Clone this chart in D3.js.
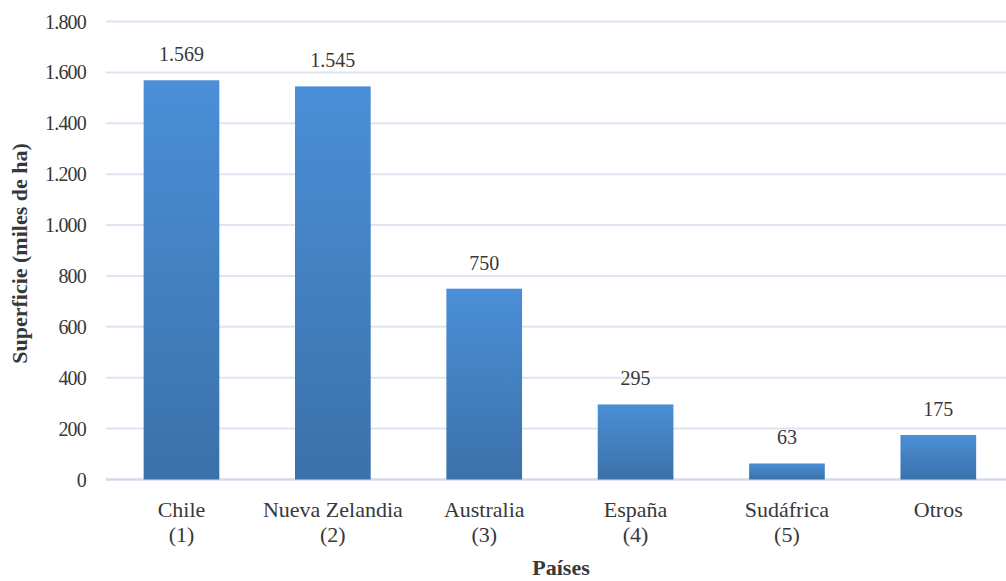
<!DOCTYPE html>
<html>
<head>
<meta charset="utf-8">
<script src="https://cdn.jsdelivr.net/npm/d3@7"></script>
<style>
  html, body { margin: 0; padding: 0; background: #fff; }
</style>
</head>
<body>
<svg id="chart" width="1006" height="581"></svg>
<script>
// Superficie plantada por país (miles de ha)
const countries = ["Chile", "Nueva Zelandia", "Australia", "España", "Sudáfrica", "Otros"];
const ranks = ["(1)", "(2)", "(3)", "(4)", "(5)", ""];
const values = [1569, 1545, 750, 295, 63, 175];
const yTicks = [0, 200, 400, 600, 800, 1000, 1200, 1400, 1600, 1800];

const FONT = '"Liberation Serif", "Times New Roman", serif';
const INK = "#383838";

const es = d3.formatLocale({ decimal: ",", thousands: ".", grouping: [3], currency: ["", ""] });
const fmt = es.format(",d");

const svg = d3.select("#chart");
const plotLeft = 105.8, plotRight = 1014, plotTop = 21.5, plotBottom = 479.5;

const x = d3.scaleBand().domain(countries).range([plotLeft, plotRight]).paddingInner(0.5).paddingOuter(0.25);
const y = d3.scaleLinear().domain([0, 1800]).range([plotBottom, plotTop]);
const cx = d => x(d) + x.bandwidth() / 2;

// bar gradient: lighter at the top, deeper blue at the base
const grad = svg.append("defs").append("linearGradient").attr("id", "barGrad")
  .attr("x1", 0).attr("y1", 0).attr("x2", 0).attr("y2", 1);
grad.append("stop").attr("offset", "0%").attr("stop-color", "#4b8fd7");
grad.append("stop").attr("offset", "100%").attr("stop-color", "#3b71aa");

// horizontal gridlines
svg.append("g").selectAll("line").data(yTicks).join("line")
  .attr("x1", plotLeft).attr("x2", plotRight)
  .attr("y1", d => y(d)).attr("y2", d => y(d))
  .attr("stroke", d => d === 0 ? "#d0dcee" : "#dce6f3")
  .attr("stroke-width", d => d === 0 ? 2.5 : 2);

// y tick labels
svg.append("g").selectAll("text").data(yTicks).join("text")
  .attr("x", 86).attr("y", d => y(d) + 7)
  .attr("text-anchor", "end")
  .attr("font-size", 20).attr("fill", INK)
  .attr("letter-spacing", "-0.8")
  .style("font-family", FONT)
  .text(d => fmt(d));

// bars
svg.append("g").selectAll("rect").data(values).join("rect")
  .attr("x", (d, i) => x(countries[i]))
  .attr("width", x.bandwidth())
  .attr("y", d => y(d))
  .attr("height", d => y(0) - y(d))
  .attr("fill", "url(#barGrad)");

// value labels
svg.append("g").selectAll("text").data(values).join("text")
  .attr("x", (d, i) => cx(countries[i]))
  .attr("y", d => y(d) - 19)
  .attr("text-anchor", "middle")
  .attr("font-size", 20).attr("fill", INK)
  .style("font-family", FONT)
  .text(d => fmt(d));

// category labels (name + rank)
const cat = svg.append("g").selectAll("text").data(countries).join("text")
  .attr("y", 517)
  .attr("text-anchor", "middle")
  .attr("font-size", 22).attr("fill", INK)
  .style("font-family", FONT);
cat.append("tspan").attr("x", cx).text(d => d);
cat.append("tspan").attr("x", cx).attr("dy", 25)
  .text((d, i) => ranks[i]);

// axis titles
svg.append("text")
  .attr("x", 561).attr("y", 575)
  .attr("text-anchor", "middle")
  .attr("font-size", 22).attr("font-weight", "bold").attr("fill", INK)
  .style("font-family", FONT)
  .text("Países");

svg.append("text")
  .attr("transform", "translate(27, 253.5) rotate(-90)")
  .attr("text-anchor", "middle")
  .attr("font-size", 22).attr("font-weight", "bold").attr("fill", INK)
  .style("font-family", FONT)
  .text("Superficie (miles de ha)");
</script>
</body>
</html>
